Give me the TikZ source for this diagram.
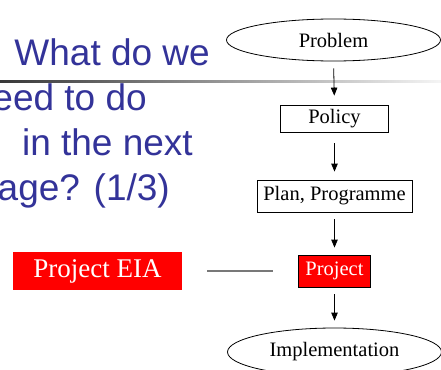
\documentclass[tikz,border=0pt]{standalone}
\usepackage{fontspec}
\setmainfont{Liberation Serif}
\newfontfamily\titlefont{Liberation Sans}
\usetikzlibrary{shapes.geometric,arrows.meta}
\definecolor{titleblue}{RGB}{51,51,153}
\definecolor{boxred}{RGB}{255,0,0}
\definecolor{linkgray}{RGB}{120,120,120}
\begin{document}
\begin{tikzpicture}[x=1pt,y=-1pt,
  flow/.style={font=\fontsize{20.5}{24}\selectfont, inner sep=0pt, line width=0.8pt, draw=black},
  oval/.style={flow, ellipse},
  plainbox/.style={flow, rectangle},
  redbox/.style={flow, rectangle, fill=boxred, text=white},
  eiabox/.style={rectangle, fill=boxred, text=white, inner sep=0pt, font=\fontsize{27}{32}\selectfont},
  titleline/.style={anchor=base east, inner sep=0pt, text=titleblue, font=\titlefont\fontsize{37}{44}\selectfont},
  arr/.style={-{Triangle[length=8pt,width=6.5pt]}, line width=0.8pt},
  link/.style={draw=linkgray, line width=1.2pt}]
\useasboundingbox (0,0) rectangle (441,369);
\clip (0,0) rectangle (441,369);
\fill[white] (0,0) rectangle (441,369);

% title
\shade[left color=black!78, right color=black!4] (0,80) rectangle (441,82.5);
\node[titleline] (t1) at (210,65) {What do we};
\node[titleline] (t2) at (147,110) {eed to do};
\node[titleline] (t3) at (193,155) {in the next};
\node[titleline] (t4) at (170,200) {age? (1/3)};

% flow
\node[oval, minimum width=214pt, minimum height=42pt] (prob) at (333.5,40) {Problem};
\node[plainbox, minimum width=108pt, minimum height=27pt] (pol) at (334.5,118.5) {Policy};
\node[plainbox, minimum width=155pt, minimum height=32pt] (plan) at (334.5,196) {Plan, Programme};
\node[redbox, minimum width=72pt, minimum height=32pt] (proj) at (334.5,271) {Project};
\node[oval, minimum width=214pt, minimum height=48pt] (impl) at (334.5,352) {Implementation};
\node[eiabox, minimum width=169pt, minimum height=38pt] (eia) at (97.5,271) {Project EIA};

\draw[arr, shorten <=7pt, shorten >=9pt] (prob.south) -- (pol.north);
\draw[arr, shorten <=11pt, shorten >=8pt] (pol.south) -- (plan.north);
\draw[arr, shorten <=7pt, shorten >=7pt] (plan.south) -- (proj.north);
\draw[arr, shorten <=7pt, shorten >=7pt] (proj.south) -- (impl.north);
\draw[link, shorten <=25pt, shorten >=25pt] (eia.east) -- (proj.west);
\end{tikzpicture}
\end{document}
